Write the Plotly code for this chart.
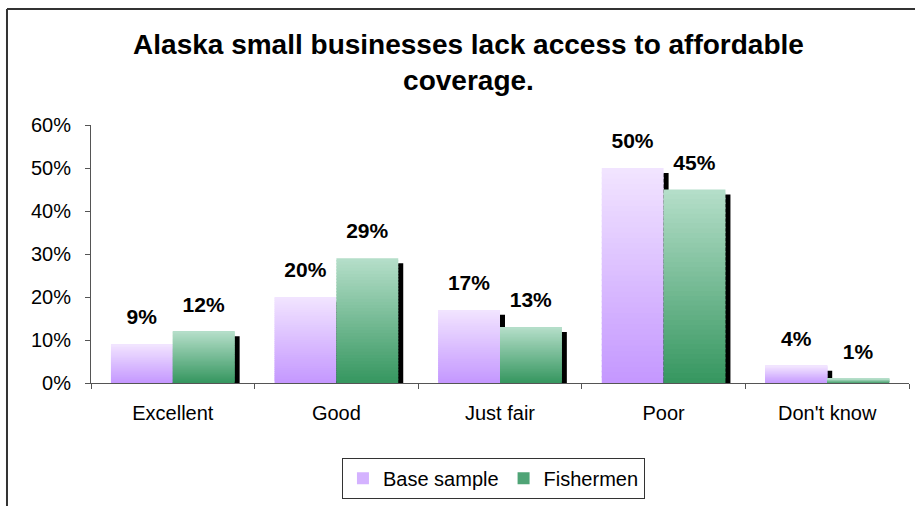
import plotly.graph_objects as go

# Survey results: rating of access to affordable coverage
categories = ["Excellent", "Good", "Just fair", "Poor", "Don't know"]
base_sample = [9, 20, 17, 50, 4]
fishermen = [12, 29, 13, 45, 1]
y_ticks = [0, 10, 20, 30, 40, 50, 60]
y_tick_labels = ["0%", "10%", "20%", "30%", "40%", "50%", "60%"]

FONT = "Liberation Sans, Arial, sans-serif"
N_SLICES = 40            # vertical slices used to paint the gradient fill
SLICE_OVERLAP = 0.35     # slight overlap between slices so no seams show
BAR_W = 0.378            # bar width in category units
SHADOW_DX = 5 / 163.5    # drop shadow offset (category units)
SHADOW_DY = 1.15         # drop shadow offset (value units)
LABEL_GAP = 3.0          # space between bar top and its value label

series = [
    dict(name="Base sample", values=base_sample, offset=-BAR_W,
         top="#F2E5FF", bottom="#C497FF", legend="#D4B2FF"),
    dict(name="Fishermen", values=fishermen, offset=0.0,
         top="#B6DFCA", bottom="#35965F", legend="#4FA476"),
]


def hex_to_rgb(h):
    h = h.lstrip("#")
    return tuple(int(h[i:i + 2], 16) for i in (0, 2, 4))


def mix(c_bottom, c_top, t):
    a, b = hex_to_rgb(c_bottom), hex_to_rgb(c_top)
    r = [round(a[k] + (b[k] - a[k]) * t) for k in range(3)]
    return "rgb(%d,%d,%d)" % tuple(r)


fig = go.Figure()

# drop shadows, drawn first so the bars sit over them
for s in series:
    fig.add_trace(go.Bar(
        x=categories, y=s["values"], base=[-SHADOW_DY] * len(categories),
        offset=s["offset"] + SHADOW_DX, width=BAR_W,
        marker=dict(color="black", line=dict(width=0)),
        showlegend=False, hoverinfo="skip",
    ))

# gradient-filled bars built from stacked slices of each value
for s in series:
    vals = s["values"]
    for i in range(N_SLICES):
        bases = [v * i / N_SLICES for v in vals]
        heights = [min(v / N_SLICES + SLICE_OVERLAP, v - b) for v, b in zip(vals, bases)]
        t = (i + 0.5) / N_SLICES
        fig.add_trace(go.Bar(
            x=categories, y=heights, base=bases,
            offset=s["offset"], width=BAR_W,
            marker=dict(color=mix(s["bottom"], s["top"], t), line=dict(width=0)),
            showlegend=False, hoverinfo="skip",
        ))
    # legend entry for the series
    fig.add_trace(go.Bar(
        x=categories, y=[0] * len(categories), base=[0] * len(categories),
        offset=s["offset"], width=BAR_W, name=s["name"],
        marker=dict(color=s["legend"], line=dict(width=0)),
        showlegend=True, hoverinfo="skip",
    ))

# value labels above each bar
for s in series:
    vals = s["values"]
    fig.add_trace(go.Bar(
        x=categories, y=[LABEL_GAP] * len(vals), base=vals,
        offset=s["offset"], width=BAR_W,
        marker=dict(color="rgba(0,0,0,0)", line=dict(width=0)),
        text=["%d%%" % v for v in vals], textposition="outside",
        textfont=dict(family=FONT, size=21, color="black", weight="bold"),
        constraintext="none", cliponaxis=False,
        showlegend=False, hoverinfo="skip",
    ))

fig.update_layout(
    width=915, height=506,
    margin=dict(l=91, r=6, t=125, b=123),
    paper_bgcolor="white", plot_bgcolor="white",
    barmode="overlay",
    font=dict(family=FONT, size=20, color="black"),
    title=dict(
        text="Alaska small businesses lack access to affordable<br>coverage.",
        font=dict(family=FONT, size=28, color="black", weight="bold"),
        x=0.512, xref="container", xanchor="center",
        y=1 - 54 / 506, yref="container", yanchor="middle",
    ),
    xaxis=dict(
        type="category", range=[-0.5, 4.5],
        showline=True, linecolor="#555", linewidth=1,
        ticks="outside", tickson="boundaries", ticklen=5, tickcolor="#555",
        ticklabelstandoff=12,
        showgrid=False, zeroline=False,
        tickfont=dict(family=FONT, size=20, color="black"),
    ),
    yaxis=dict(
        range=[0, 60], tickvals=y_ticks, ticktext=y_tick_labels,
        showline=True, linecolor="#555", linewidth=1,
        ticks="outside", ticklen=5, tickcolor="#555",
        ticklabelstandoff=10,
        showgrid=False, zeroline=False,
        tickfont=dict(family=FONT, size=20, color="black"),
    ),
    legend=dict(
        orientation="h", x=0.492, xanchor="center", y=-0.29, yanchor="top",
        bordercolor="#333", borderwidth=1, bgcolor="white",
        font=dict(family=FONT, size=20, color="black"),
        itemwidth=30,
    ),
    shapes=[
        # chart frame: left and top edges
        dict(type="line", xref="paper", yref="paper",
             x0=-0.1027, x1=-0.1027, y0=1.4496, y1=-0.6,
             line=dict(color="#333", width=2)),
        dict(type="line", xref="paper", yref="paper",
             x0=-0.1027, x1=1.1, y0=1.4496, y1=1.4496,
             line=dict(color="#333", width=2)),
    ],
)

fig.write_html("out.html")
